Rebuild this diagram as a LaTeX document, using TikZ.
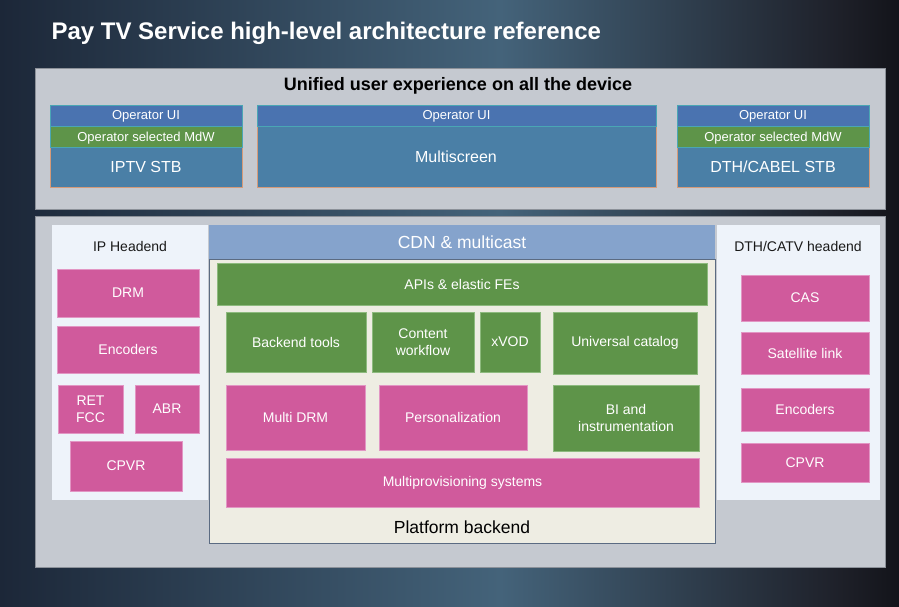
\documentclass[tikz,border=0pt]{standalone}
\usepackage{fontspec}
\setmainfont{Liberation Sans}
\usetikzlibrary{fit}

\definecolor{bgA}{HTML}{1C2738}
\definecolor{bgB}{HTML}{44637A}
\definecolor{bgC}{HTML}{1E2029}
\definecolor{bgD}{HTML}{13141A}
\definecolor{panel}{HTML}{C5C9D0}
\definecolor{panelline}{HTML}{8C9199}
\definecolor{lightpanel}{HTML}{EEF3FA}
\definecolor{backendfill}{HTML}{EEEDE3}
\definecolor{backendline}{HTML}{5B6B82}
\definecolor{cdnblue}{HTML}{85A3CC}
\definecolor{uiblue}{HTML}{4A73B0}
\definecolor{steel}{HTML}{4A7FA6}
\definecolor{mdwgreen}{HTML}{5E9449}
\definecolor{pinkfill}{HTML}{D05A9C}
\definecolor{pinkline}{HTML}{E296C4}
\definecolor{greenline}{HTML}{8DBA7E}
\definecolor{tealline}{HTML}{4AA6B4}
\definecolor{orangeline}{HTML}{D69A78}

\tikzset{
  x=1pt, y=-1pt,
  panelbox/.style={draw=panelline, fill=panel, line width=0.8pt, inner sep=0pt},
  lightbox/.style={fill=lightpanel, inner sep=0pt},
  pinkbox/.style={draw=pinkline, fill=pinkfill, line width=0.6pt, inner sep=0pt},
  greenbox/.style={draw=greenline, fill=mdwgreen, line width=0.6pt, inner sep=0pt},
  devicebox/.style={draw=orangeline, fill=steel, line width=0.8pt, inner sep=0pt},
  uistrip/.style={draw=tealline, fill=uiblue, line width=0.8pt, inner sep=0pt},
  mdwstrip/.style={draw=tealline, fill=mdwgreen, line width=0.8pt, inner sep=0pt},
  boxtext/.style={text=white, align=center, inner sep=0pt,
    font=\fontsize{14}{17}\selectfont},
  striptext/.style={text=white, inner sep=0pt, yshift=-1.2pt,
    font=\fontsize{13}{15}\selectfont},
  devtext/.style={text=white, inner sep=0pt, font=\fontsize{16}{18}\selectfont},
  headtitle/.style={text=black!90, font=\fontsize{14}{16}\selectfont},
}

\begin{document}
\begin{tikzpicture}
\useasboundingbox (0,0) rectangle (899,607);

% backdrop: horizontal dark-to-slate-to-dark gradient
\shade[left color=bgA, right color=bgB] (0,0) rectangle (500,607);
\shade[left color=bgB, right color=bgC] (500,0) rectangle (840,607);
\shade[left color=bgC, right color=bgD] (840,0) rectangle (899,607);

% title
\node[anchor=west, text=white, font=\bfseries\fontsize{24}{27}\selectfont]
  (title) at (48,33) {Pay TV Service high-level architecture reference};

% ---------- device layer ----------
\node[panelbox, fit={(35,68) (885,209)}] (devices) {};
\node[font=\bfseries\fontsize{18}{21}\selectfont, text=black]
  (unified) at (458,86) {Unified user experience on all the device};

% IPTV STB stack
\node[devicebox, fit={(50,105) (242,187)}] (iptv) {};
\node[devtext] (iptvlbl) at (146,167) {IPTV STB};
\node[uistrip, fit={(50,105) (242,126)}] (iptvui) {};
\node[striptext] at (iptvui.center) {Operator UI};
\node[mdwstrip, fit={(50,126) (242,147)}] (iptvmdw) {};
\node[striptext] at (iptvmdw.center) {Operator selected MdW};

% Multiscreen stack
\node[devicebox, fit={(257,105) (656,187)}] (multi) {};
\node[devtext] (multilbl) at (456,157) {Multiscreen};
\node[uistrip, fit={(257,105) (656,126)}] (multiui) {};
\node[striptext] at (multiui.center) {Operator UI};

% DTH/CABEL STB stack
\node[devicebox, fit={(677,105) (869,187)}] (dth) {};
\node[devtext] (dthlbl) at (773,167) {DTH/CABEL STB};
\node[uistrip, fit={(677,105) (869,126)}] (dthui) {};
\node[striptext] at (dthui.center) {Operator UI};
\node[mdwstrip, fit={(677,126) (869,147)}] (dthmdw) {};
\node[striptext] at (dthmdw.center) {Operator selected MdW};

% ---------- service layer ----------
\node[panelbox, fit={(35,216) (885,567)}] (services) {};

% IP headend
\node[lightbox, fit={(52,225) (208,500)}] (iphead) {};
\node[headtitle] (ipheadlbl) at (130,246) {IP Headend};
\node[pinkbox, fit={(57,269) (199,317)}] (drm) {};
\node[boxtext] at (drm.center) {DRM};
\node[pinkbox, fit={(57,326) (199,373)}] (enc1) {};
\node[boxtext] at (enc1.center) {Encoders};
\node[pinkbox, fit={(58,385) (123,433)}] (ret) {};
\node[boxtext] at (ret.center) {RET\\FCC};
\node[pinkbox, fit={(135,385) (199,433)}] (abr) {};
\node[boxtext] at (abr.center) {ABR};
\node[pinkbox, fit={(70,441) (182,491)}] (cpvr1) {};
\node[boxtext] at (cpvr1.center) {CPVR};

% DTH/CATV headend
\node[lightbox, fit={(717,225) (880,500)}] (dthhead) {};
\node[headtitle] (dthheadlbl) at (798,246) {DTH/CATV headend};
\node[pinkbox, fit={(741,275) (869,321)}] (cas) {};
\node[boxtext] at (cas.center) {CAS};
\node[pinkbox, fit={(741,332) (869,374)}] (sat) {};
\node[boxtext] at (sat.center) {Satellite link};
\node[pinkbox, fit={(741,388) (869,431)}] (enc2) {};
\node[boxtext] at (enc2.center) {Encoders};
\node[pinkbox, fit={(741,443) (869,482)}] (cpvr2) {};
\node[boxtext] at (cpvr2.center) {CPVR};

% platform backend
\node[draw=backendline, fill=backendfill, line width=0.8pt, inner sep=0pt,
  fit={(209,259) (715,543)}] (backend) {};
\node[text=black, font=\fontsize{17.5}{20}\selectfont] (backendlbl) at (462,527) {Platform backend};
\node[fill=cdnblue, inner sep=0pt, fit={(209,225) (715,259)}] (cdn) {};
\node[text=white, inner sep=0pt, font=\fontsize{17.5}{20}\selectfont] at (cdn.center) {CDN \& multicast};

\node[greenbox, fit={(217,263) (707,305)}] (apis) {};
\node[boxtext] at (apis.center) {APIs \& elastic FEs};
\node[greenbox, fit={(226,312) (366,372)}] (tools) {};
\node[boxtext] at (tools.center) {Backend tools};
\node[greenbox, fit={(372,312) (474,372)}] (workflow) {};
\node[boxtext] at (workflow.center) {Content\\workflow};
\node[greenbox, fit={(480,312) (540,372)}] (xvod) {};
\node[boxtext] at (xvod.center) {xVOD};
\node[greenbox, fit={(553,312) (697,374)}] (catalog) {};
\node[boxtext] at (catalog.center) {Universal catalog};
\node[pinkbox, fit={(226,385) (365,450)}] (mdrm) {};
\node[boxtext] at (mdrm.center) {Multi DRM};
\node[pinkbox, fit={(379,385) (527,450)}] (perso) {};
\node[boxtext] at (perso.center) {Personalization};
\node[greenbox, fit={(553,385) (699,451)}] (bi) {};
\node[boxtext] at (bi.center) {BI and\\instrumentation};
\node[pinkbox, fit={(226,458) (699,507)}] (prov) {};
\node[boxtext] at (prov.center) {Multiprovisioning systems};
\end{tikzpicture}
\end{document}
